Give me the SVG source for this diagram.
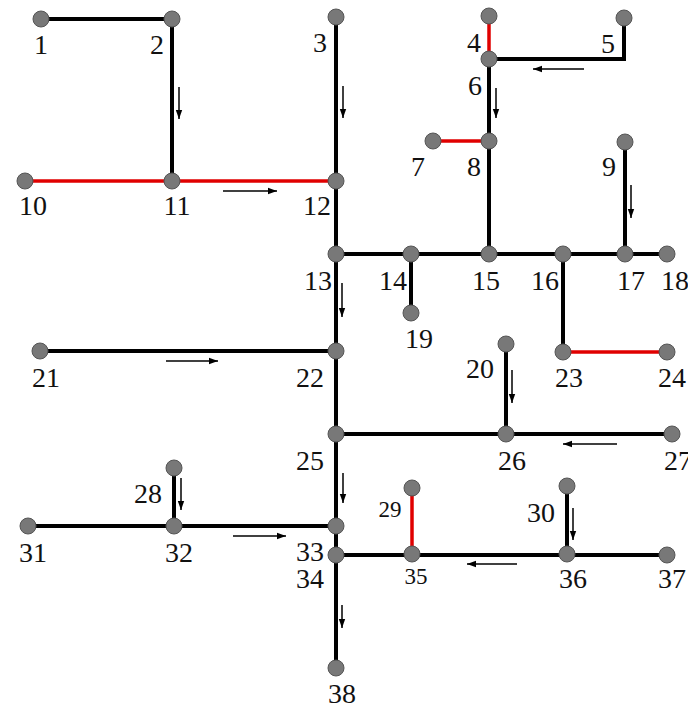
<svg xmlns="http://www.w3.org/2000/svg" width="688" height="708" viewBox="0 0 688 708">
<defs>
<marker id="ah" markerUnits="userSpaceOnUse" markerWidth="10" markerHeight="8" refX="9" refY="4" orient="auto">
<path d="M0,0.8 L9,4 L0,7.2 Z" fill="#000"/>
</marker>
<style>
.e{stroke:#000;stroke-width:4;fill:none;stroke-linecap:butt}
.r{stroke:#e00000;stroke-width:3.5;fill:none}
.a{stroke:#000;stroke-width:1.5;fill:none;marker-end:url(#ah)}
.n{fill:#787878;stroke:#555;stroke-width:1}
.t{font-family:"Liberation Serif","Times New Roman",serif;font-size:28px;fill:#111;text-anchor:middle}
.s{font-size:23px}
</style>
</defs>
<rect width="688" height="708" fill="#fff"/>
<g id="connectors">
<path class="e" d="M41,19 H172 V181"/>
<path class="e" d="M336,17 V668"/>
<path class="e" d="M489,59 H624 V18"/>
<path class="e" d="M489,59 V254"/>
<path class="e" d="M625,142 V254"/>
<path class="e" d="M336,254 H667"/>
<path class="e" d="M411,254 V313"/>
<path class="e" d="M563,254 V352"/>
<path class="e" d="M40,351 H336"/>
<path class="e" d="M506,344 V434"/>
<path class="e" d="M336,434 H672"/>
<path class="e" d="M174,468 V526"/>
<path class="e" d="M28,526 H336"/>
<path class="e" d="M336,555 H667"/>
<path class="e" d="M567,486 V554"/>
<path class="r" d="M489,16 V59"/>
<path class="r" d="M433,141 H489"/>
<path class="r" d="M25,181 H336"/>
<path class="r" d="M563,352 H667"/>
<path class="r" d="M412,488 V554"/>
<path class="a" d="M179,87 V119"/>
<path class="a" d="M343,86 V118"/>
<path class="a" d="M496,88 V118"/>
<path class="a" d="M584,69 H533"/>
<path class="a" d="M223,191 H277"/>
<path class="a" d="M631,185 V218"/>
<path class="a" d="M342,283 V317"/>
<path class="a" d="M166,361 H218"/>
<path class="a" d="M512,370 V403"/>
<path class="a" d="M617,444 H563"/>
<path class="a" d="M343,473 V503"/>
<path class="a" d="M181,478 V510"/>
<path class="a" d="M233,536 H286"/>
<path class="a" d="M573,508 V540"/>
<path class="a" d="M517,564 H467"/>
<path class="a" d="M342,605 V628"/>
</g>
<g id="n1"><circle class="n" cx="41" cy="19" r="8"/><text class="t" x="41" y="54">1</text></g>
<g id="n2"><circle class="n" cx="172" cy="19" r="8"/><text class="t" x="157" y="54">2</text></g>
<g id="n3"><circle class="n" cx="336" cy="17" r="8"/><text class="t" x="320" y="52">3</text></g>
<g id="n4"><circle class="n" cx="489" cy="16" r="8"/><text class="t" x="474" y="52">4</text></g>
<g id="n5"><circle class="n" cx="624" cy="18" r="8"/><text class="t" x="608" y="53">5</text></g>
<g id="n6"><circle class="n" cx="489" cy="59" r="8"/><text class="t" x="475" y="95">6</text></g>
<g id="n7"><circle class="n" cx="433" cy="141" r="8"/><text class="t" x="418" y="176">7</text></g>
<g id="n8"><circle class="n" cx="489" cy="141" r="8"/><text class="t" x="474" y="176">8</text></g>
<g id="n9"><circle class="n" cx="625" cy="142" r="8"/><text class="t" x="609" y="176">9</text></g>
<g id="n10"><circle class="n" cx="25" cy="181" r="8"/><text class="t" x="33" y="215">10</text></g>
<g id="n11"><circle class="n" cx="172" cy="181" r="8"/><text class="t" x="177" y="215">11</text></g>
<g id="n12"><circle class="n" cx="336" cy="181" r="8"/><text class="t" x="317" y="215">12</text></g>
<g id="n13"><circle class="n" cx="336" cy="254" r="8"/><text class="t" x="318" y="290">13</text></g>
<g id="n14"><circle class="n" cx="411" cy="254" r="8"/><text class="t" x="393" y="290">14</text></g>
<g id="n15"><circle class="n" cx="489" cy="254" r="8"/><text class="t" x="486" y="290">15</text></g>
<g id="n16"><circle class="n" cx="563" cy="254" r="8"/><text class="t" x="545" y="290">16</text></g>
<g id="n17"><circle class="n" cx="625" cy="254" r="8"/><text class="t" x="631" y="290">17</text></g>
<g id="n18"><circle class="n" cx="667" cy="254" r="8"/><text class="t" x="675" y="290">18</text></g>
<g id="n19"><circle class="n" cx="411" cy="313" r="8"/><text class="t" x="419" y="348">19</text></g>
<g id="n20"><circle class="n" cx="506" cy="344" r="8"/><text class="t" x="480" y="378">20</text></g>
<g id="n21"><circle class="n" cx="40" cy="351" r="8"/><text class="t" x="46" y="387">21</text></g>
<g id="n22"><circle class="n" cx="336" cy="351" r="8"/><text class="t" x="310" y="387">22</text></g>
<g id="n23"><circle class="n" cx="563" cy="352" r="8"/><text class="t" x="569" y="387">23</text></g>
<g id="n24"><circle class="n" cx="667" cy="352" r="8"/><text class="t" x="672" y="387">24</text></g>
<g id="n25"><circle class="n" cx="336" cy="434" r="8"/><text class="t" x="310" y="470">25</text></g>
<g id="n26"><circle class="n" cx="506" cy="434" r="8"/><text class="t" x="512" y="470">26</text></g>
<g id="n27"><circle class="n" cx="672" cy="434" r="8"/><text class="t" x="678" y="470">27</text></g>
<g id="n28"><circle class="n" cx="174" cy="468" r="8"/><text class="t" x="148" y="503">28</text></g>
<g id="n29"><circle class="n" cx="412" cy="488" r="8"/><text class="t s" x="390" y="517">29</text></g>
<g id="n30"><circle class="n" cx="567" cy="486" r="8"/><text class="t" x="541" y="522">30</text></g>
<g id="n31"><circle class="n" cx="28" cy="526" r="8"/><text class="t" x="33" y="562">31</text></g>
<g id="n32"><circle class="n" cx="174" cy="526" r="8"/><text class="t" x="179" y="562">32</text></g>
<g id="n33"><circle class="n" cx="336" cy="526" r="8"/><text class="t" x="310" y="561">33</text></g>
<g id="n34"><circle class="n" cx="336" cy="555" r="8"/><text class="t" x="310" y="588">34</text></g>
<g id="n35"><circle class="n" cx="412" cy="554" r="8"/><text class="t s" x="416" y="584">35</text></g>
<g id="n36"><circle class="n" cx="567" cy="554" r="8"/><text class="t" x="573" y="588">36</text></g>
<g id="n37"><circle class="n" cx="667" cy="555" r="8"/><text class="t" x="672" y="588">37</text></g>
<g id="n38"><circle class="n" cx="336" cy="668" r="8"/><text class="t" x="342" y="703">38</text></g>
</svg>
